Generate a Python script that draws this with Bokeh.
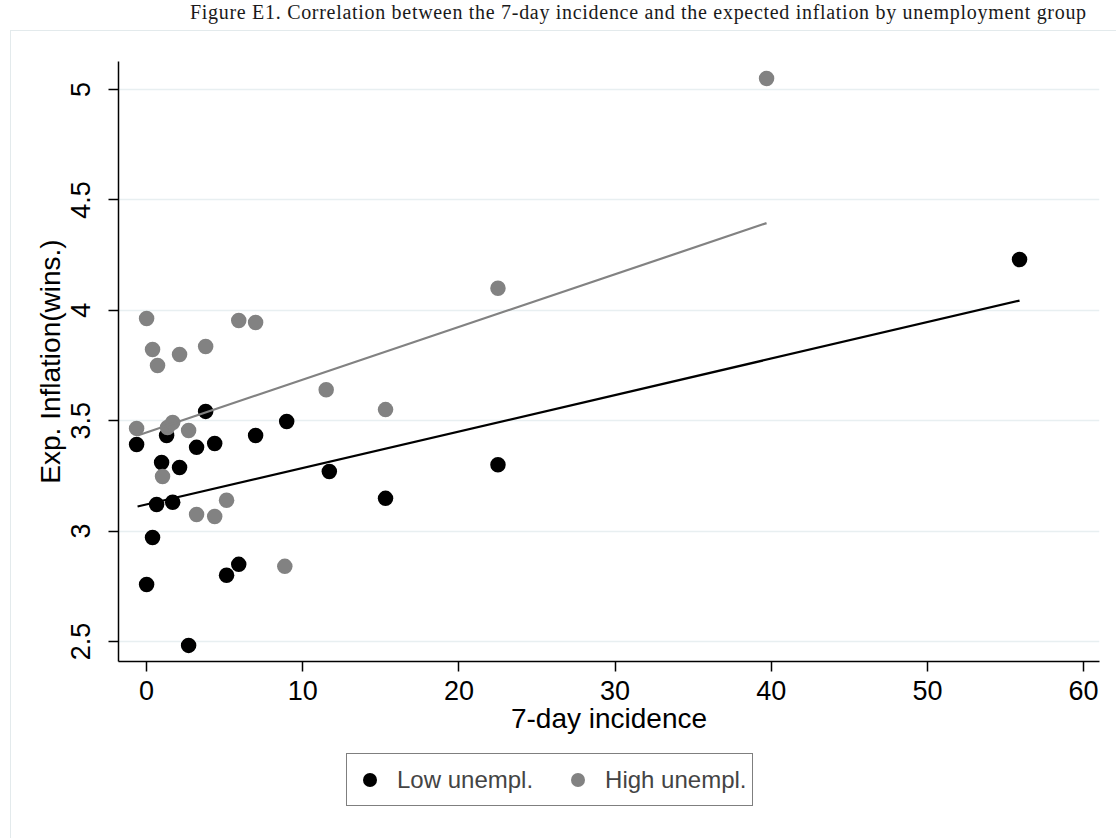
from bokeh.plotting import figure
from bokeh.models import Div, Legend, LegendItem, FixedTicker, Range1d
from bokeh.layouts import column
from bokeh.embed import file_html
from bokeh.resources import INLINE

# ---- data ----
low_x = [-0.64, 0.0, 0.38, 0.64, 0.96, 1.28, 1.67, 2.11, 2.69, 3.2, 3.78, 4.36, 5.12, 5.9, 6.98, 8.97, 11.7, 15.3, 22.5, 55.9]
low_y = [3.392, 2.758, 2.971, 3.12, 3.31, 3.433, 3.13, 3.288, 2.482, 3.379, 3.542, 3.397, 2.80, 2.849, 3.433, 3.496, 3.27, 3.148, 3.30, 4.23]
high_x = [-0.64, 0.0, 0.38, 0.7, 1.02, 1.34, 1.67, 2.11, 2.69, 3.2, 3.78, 4.36, 5.12, 5.9, 6.98, 8.85, 11.5, 15.3, 22.5, 39.7]
high_y = [3.465, 3.963, 3.822, 3.75, 3.247, 3.469, 3.492, 3.80, 3.455, 3.075, 3.836, 3.066, 3.139, 3.954, 3.945, 2.84, 3.64, 3.55, 4.10, 5.05]
fit_low_x = [-0.58, 55.9]
fit_low_y = [3.111, 4.044]
fit_high_x = [-0.58, 39.7]
fit_high_y = [3.433, 4.395]
x_ticks = [0, 10, 20, 30, 40, 50, 60]
y_ticks = [2.5, 3, 3.5, 4, 4.5, 5]
y_tick_labels = {2.5: "2.5", 3: "3", 3.5: "3.5", 4: "4", 4.5: "4.5", 5: "5"}
legend_labels = ["Low unempl.", "High unempl."]

title_text = "Figure E1. Correlation between the 7-day incidence and the expected inflation by unemployment group"
FONT = "Liberation Sans"
GRAY = "#828282"

p = figure(width=1106, height=710, output_backend="svg", toolbar_location=None,
           x_range=Range1d(-1.8, 61.02), y_range=Range1d(2.409, 5.127),
           min_border_left=107, min_border_right=18, min_border_top=30, min_border_bottom=80,
           background_fill_color="white", border_fill_color="white")
p.outline_line_color = None
p.xgrid.grid_line_color = None
p.ygrid.grid_line_color = "#e8eff1"
p.ygrid.grid_line_width = 1.5
p.ygrid.ticker = FixedTicker(ticks=y_ticks)

for ax in (p.xaxis[0], p.yaxis[0]):
    ax.axis_line_color = "black"
    ax.axis_line_width = 1.5
    ax.major_tick_line_color = "black"
    ax.major_tick_line_width = 1.5
    ax.major_tick_out = 10
    ax.major_tick_in = 0
    ax.minor_tick_line_color = None
    ax.major_label_text_font = FONT
    ax.major_label_text_font_size = "27px"
    ax.major_label_text_color = "black"
    ax.axis_label_text_font = FONT
    ax.axis_label_text_font_size = "28px"
    ax.axis_label_text_font_style = "normal"
    ax.axis_label_text_color = "black"

p.xaxis.ticker = FixedTicker(ticks=x_ticks)
p.yaxis.ticker = FixedTicker(ticks=y_ticks)
p.yaxis.major_label_overrides = y_tick_labels
p.yaxis.major_label_orientation = "vertical"
p.xaxis.axis_label = "7-day incidence"
p.yaxis.axis_label = "Exp. Inflation(wins.)"
p.xaxis.major_label_standoff = 9
p.yaxis.major_label_standoff = 18
p.xaxis.axis_label_standoff = 0
p.yaxis.axis_label_standoff = 3

p.scatter(low_x, low_y, size=15.5, color="black", line_color=None)
p.scatter(high_x, high_y, size=15.5, color=GRAY, line_color=None)
p.line(fit_low_x, fit_low_y, line_color="black", line_width=2.2)
p.line(fit_high_x, fit_high_y, line_color=GRAY, line_width=2.2)

# ---- legend strip ----
lf = figure(width=1106, height=98, output_backend="svg", toolbar_location=None,
            x_axis_type=None, y_axis_type=None, x_range=Range1d(0, 1), y_range=Range1d(0, 1),
            min_border=0, background_fill_color="white", border_fill_color="white")
lf.outline_line_color = None
lf.xgrid.visible = False
lf.ygrid.visible = False
lr_low = lf.scatter(x=[-10], y=[-10], size=16, color="black", line_color=None)
lr_high = lf.scatter(x=[-10], y=[-10], size=16, color=GRAY, line_color=None)
legend = Legend(items=[LegendItem(label=legend_labels[0], renderers=[lr_low]),
                       LegendItem(label=legend_labels[1], renderers=[lr_high])],
                orientation="horizontal", location=(228, 33))
legend.border_line_color = "black"
legend.border_line_width = 1
legend.background_fill_color = "white"
legend.label_text_font = FONT
legend.label_text_font_size = "24px"
legend.label_height = 41
legend.glyph_width = 35
legend.glyph_height = 35
legend.label_standoff = 10
legend.spacing = 27
legend.padding = 5
legend.margin = 0
lf.add_layout(legend, "center")

inner = column(p, lf, spacing=0, margin=(0, 0, 0, 10),
               styles={"border": "1px solid #e3eaec"})

title = Div(text=f'<div style="position:absolute;left:190px;top:-2px;font-family:\'Liberation Serif\';'
                 f'font-size:20px;letter-spacing:0.7px;color:#1a1a1a;white-space:nowrap">{title_text}</div>',
            width=1116, height=30, margin=0)

layout = column(title, inner, spacing=0, margin=0)
open("out.html", "w").write(file_html(layout, INLINE))
